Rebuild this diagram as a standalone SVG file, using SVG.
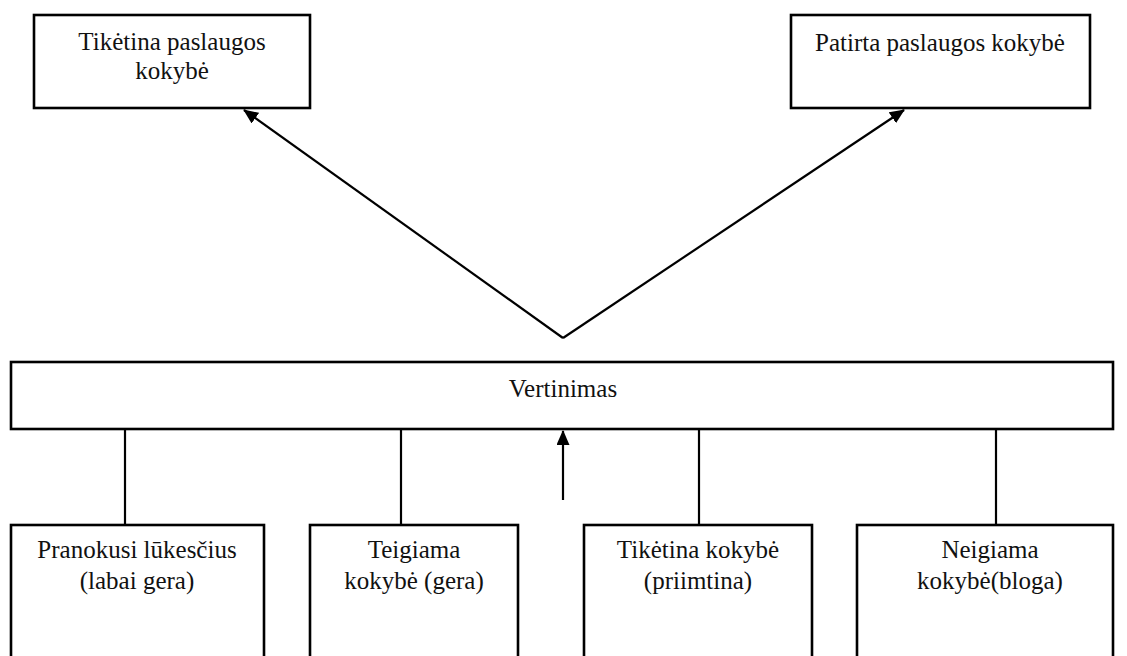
<svg xmlns="http://www.w3.org/2000/svg" width="1127" height="656" viewBox="0 0 1127 656">
  <style>
    .box { fill: #ffffff; stroke: #000000; stroke-width: 2.6; }
    .link { fill: none; stroke: #000000; stroke-width: 2.2; }
    .label { font-family: "Liberation Serif", "Times New Roman", serif; font-size: 25px; fill: #111111; text-anchor: middle; }
  </style>
  <defs>
    <!-- filled triangular head, sized in user units -->
    <marker id="arrow" viewBox="0 0 15 13" refX="14" refY="6.5" markerWidth="15" markerHeight="13" orient="auto" markerUnits="userSpaceOnUse">
      <path d="M0,0 L15,6.5 L0,13 z" fill="#000000"/>
    </marker>
  </defs>
  <rect width="1127" height="656" fill="#ffffff"/>

  <g id="connectors">
    <path class="link" d="M563,338 L244,110" marker-end="url(#arrow)"/>
    <path class="link" d="M563,338 L904,110" marker-end="url(#arrow)"/>
    <line class="link" x1="563" y1="500" x2="563" y2="431" marker-end="url(#arrow)"/>
    <line class="link" x1="125" y1="429" x2="125" y2="525"/>
    <line class="link" x1="401" y1="429" x2="401" y2="525"/>
    <line class="link" x1="699" y1="429" x2="699" y2="525"/>
    <line class="link" x1="996" y1="429" x2="996" y2="525"/>
  </g>

  <g id="expected-quality">
    <rect class="box" x="34" y="15" width="276" height="93"/>
    <text class="label" x="172" y="50">Tikėtina paslaugos</text>
    <text class="label" x="172" y="79">kokybė</text>
  </g>

  <g id="perceived-quality">
    <rect class="box" x="791" y="15" width="299" height="93"/>
    <text class="label" x="940" y="51">Patirta paslaugos kokybė</text>
  </g>

  <g id="evaluation">
    <rect class="box" x="11" y="362" width="1102" height="67"/>
    <text class="label" x="563" y="397">Vertinimas</text>
  </g>

  <g id="exceeded">
    <rect class="box" x="11" y="525" width="253" height="150"/>
    <text class="label" x="137" y="558">Pranokusi lūkesčius</text>
    <text class="label" x="137" y="589">(labai gera)</text>
  </g>

  <g id="positive">
    <rect class="box" x="310" y="525" width="208" height="150"/>
    <text class="label" x="414" y="558">Teigiama</text>
    <text class="label" x="414" y="589">kokybė (gera)</text>
  </g>

  <g id="expected">
    <rect class="box" x="584" y="525" width="228" height="150"/>
    <text class="label" x="698" y="558">Tikėtina kokybė</text>
    <text class="label" x="698" y="589">(priimtina)</text>
  </g>

  <g id="negative">
    <rect class="box" x="857" y="525" width="256" height="150"/>
    <text class="label" x="990" y="558">Neigiama</text>
    <text class="label" x="990" y="589">kokybė(bloga)</text>
  </g>
</svg>
